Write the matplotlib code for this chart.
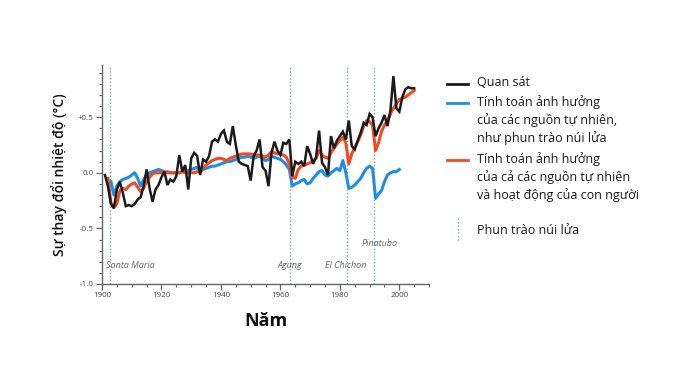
import numpy as np
import matplotlib
matplotlib.use('Agg')
import matplotlib.pyplot as plt
from matplotlib.ticker import MultipleLocator, FixedLocator, FixedFormatter

# observed annual anomalies (deg C), 1901-2005
obs_years = np.arange(1901, 2006)
obs = [-0.02, -0.12, -0.28, -0.32, -0.15, -0.08, -0.18, -0.30, -0.29, -0.30,
       -0.28, -0.24, -0.22, -0.12, 0.03, -0.14, -0.26, -0.15, -0.11, -0.04,
       0.01, -0.11, -0.06, -0.08, -0.03, 0.16, 0.01, 0.07, -0.15, 0.13,
       0.18, 0.15, -0.02, 0.12, 0.10, 0.15, 0.28, 0.30, 0.28, 0.35,
       0.38, 0.28, 0.26, 0.42, 0.25, 0.10, 0.08, 0.07, 0.06, -0.07,
       0.15, 0.20, 0.30, 0.05, 0.02, -0.12, 0.18, 0.28, 0.20, 0.16,
       0.27, 0.26, 0.30, -0.03, 0.10, 0.08, 0.10, 0.06, 0.24, 0.17,
       0.08, 0.14, 0.38, 0.09, 0.05, -0.02, 0.33, 0.22, 0.29, 0.33,
       0.37, 0.30, 0.47, 0.24, 0.21, 0.29, 0.36, 0.45, 0.43, 0.53,
       0.50, 0.33, 0.40, 0.45, 0.52, 0.42, 0.56, 0.87, 0.58, 0.55,
       0.68, 0.75, 0.77, 0.76, 0.76]

# model: natural + human forcing, 1902-2005
both_years = np.arange(1902, 2006)
both = [-0.05, -0.27, -0.31, -0.28, -0.16, -0.14, -0.15, -0.12, -0.10,
        -0.09, -0.13, -0.17, -0.14, -0.08, -0.04, -0.01, 0.00, 0.00, 0.00,
        0.00, 0.01, 0.00, 0.00, 0.00, 0.00, 0.01, 0.00, 0.00, 0.00,
        0.00, 0.01, 0.01, 0.04, 0.07, 0.09, 0.11, 0.12, 0.13, 0.13,
        0.12, 0.11, 0.13, 0.14, 0.15, 0.16, 0.17, 0.17, 0.17, 0.17,
        0.16, 0.16, 0.16, 0.15, 0.14, 0.16, 0.19, 0.18, 0.17, 0.17,
        0.16, 0.14, 0.08, -0.04, -0.05, 0.03, 0.06, 0.07, 0.08, 0.09,
        0.11, 0.13, 0.20, 0.16, 0.14, 0.13, 0.18, 0.22, 0.26, 0.29,
        0.32, 0.27, 0.08, 0.17, 0.23, 0.28, 0.34, 0.42, 0.47, 0.46,
        0.43, 0.20, 0.27, 0.37, 0.43, 0.47, 0.53, 0.58, 0.62, 0.66,
        0.67, 0.68, 0.70, 0.72, 0.74]

# model: natural forcing only, 1903-2000
nat_years = np.arange(1903, 2001)
nat = [-0.08, -0.20, -0.12, -0.08, -0.06, -0.05, -0.04, -0.02,
       0.00, -0.05, -0.12, -0.06, -0.02, 0.00, 0.01, 0.02, 0.03, 0.02,
       0.01, 0.00, 0.00, 0.00, 0.00, 0.00, 0.01, 0.01, 0.02, 0.03,
       0.04, 0.05, 0.01, 0.03, 0.04, 0.05, 0.06, 0.06, 0.07, 0.08,
       0.09, 0.10, 0.10, 0.11, 0.12, 0.13, 0.14, 0.14, 0.15, 0.14,
       0.13, 0.14, 0.15, 0.13, 0.11, 0.12, 0.15, 0.14, 0.13, 0.12,
       0.10, 0.07, 0.03, -0.12, -0.10, -0.09, -0.07, -0.06, -0.10, -0.09,
       -0.05, -0.02, 0.01, 0.02, -0.02, -0.03, 0.00, 0.02, 0.04, 0.02,
       0.11, 0.00, -0.14, -0.13, -0.11, -0.08, -0.05, 0.00, 0.04, 0.06,
       0.04, -0.23, -0.19, -0.16, -0.08, -0.02, 0.00, 0.01, 0.01, 0.03]

eruptions = ['Santa Maria', 'Agung', 'El Chichon', 'Pinatubo']
eruption_years = [1902.8, 1963.1, 1982.3, 1991.5]

ytick_vals = [-1.0, -0.5, 0.0, 0.5]
ytick_labels = ['-1.0', '-0.5', '0.0', '+0.5']

legend_labels = ['Quan sát',
                 'Tính toán ảnh hưởng\ncủa các nguồn tự nhiên,\nnhư phun trào núi lửa',
                 'Tính toán ảnh hưởng\ncủa cả các nguồn tự nhiên\nvà hoạt động của con người',
                 'Phun trào núi lửa']

plt.rcParams['font.family'] = ['Open Sans', 'DejaVu Sans']

BLACK = '#1b1b1b'
BLUE = '#1e8ee2'
RED = '#f24a22'
DOT = '#7ea4b8'

fig = plt.figure(figsize=(6.8, 3.65), dpi=100)
ax = fig.add_axes([0.150, 0.222, 0.481, 0.600])

for yr in eruption_years:
    ax.axvline(yr, color=DOT, lw=1.0, ls=(0, (1, 1.5)), zorder=1)

ax.plot(nat_years, nat, color=BLUE, lw=2.2, zorder=3, solid_joinstyle='round')
ax.plot(both_years, both, color=RED, lw=2.2, zorder=4, solid_joinstyle='round')
ax.plot(obs_years, obs, color=BLACK, lw=1.8, zorder=5, solid_joinstyle='miter')

# eruption names
lab_y = [-0.83, -0.83, -0.83, -0.64]
lab_ha = ['left', 'center', 'center', 'center']
lab_dx = [-1.5, 0.0, -0.5, 2.0]
for name, yr, y, ha, dx in zip(eruptions, eruption_years, lab_y, lab_ha, lab_dx):
    ax.text(yr + dx, y, name, ha=ha, va='center', fontsize=6.5,
            style='italic', color='#666666')

ax.set_xlim(1900, 2010)
ax.set_ylim(-1.0, 0.97)

for s in ['top', 'right']:
    ax.spines[s].set_visible(False)
for s in ['left', 'bottom']:
    ax.spines[s].set_color('#666666')
    ax.spines[s].set_linewidth(1.0)

ax.xaxis.set_major_locator(MultipleLocator(20))
ax.xaxis.set_minor_locator(MultipleLocator(5))
ax.yaxis.set_major_locator(FixedLocator(ytick_vals))
ax.yaxis.set_major_formatter(FixedFormatter(ytick_labels))
ax.yaxis.set_minor_locator(MultipleLocator(0.1))
ax.tick_params(which='major', length=4, width=0.9, color='#666666',
               labelsize=5.8, labelcolor='#444444', pad=2)
ax.tick_params(which='minor', length=2.5, width=0.8, color='#666666')

ax.set_ylabel('Sự thay đổi nhiệt độ (°C)', fontsize=10, color='#111111',
              fontweight='semibold', labelpad=8)
ax.set_xlabel('Năm', fontsize=13, fontweight='bold', color='#111111',
              labelpad=9)

# legend drawn in figure coordinates
W, H = 680.0, 365.0
line_x = [447 / W, 468 / W]
text_x = 477 / W
rows = [84, 103, 160]
colors = [BLACK, BLUE, RED]
for lab, row, c in zip(legend_labels[:3], rows, colors):
    y = 1 - row / H
    fig.add_artist(plt.Line2D(line_x, [y, y], color=c, lw=2.0))
    fig.text(text_x, y + 8 / H, lab, ha='left', va='top', fontsize=9,
             color='#1a1a1a', linespacing=1.38)
fig.add_artist(plt.Line2D([458 / W, 458 / W], [1 - 218 / H, 1 - 241 / H],
                          color=DOT, lw=1.0, ls=(0, (1, 1.5))))
fig.text(text_x, 1 - 230 / H, legend_labels[3], ha='left', va='center',
         fontsize=9, color='#1a1a1a')

fig.savefig('out.png', dpi=100)
